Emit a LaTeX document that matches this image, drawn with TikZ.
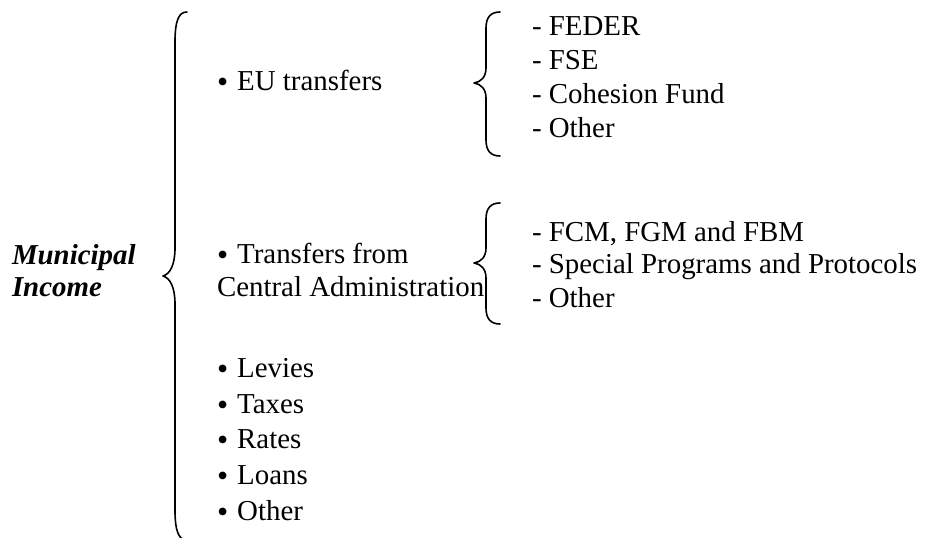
\documentclass[tikz,border=0pt]{standalone}
\usepackage{fontspec}
\setmainfont{Liberation Serif}
\newcommand{\bul}{\smash{\fontsize{32}{32}\selectfont\raisebox{-2bp}{•}}\hspace{9bp}}
\begin{document}
\begin{tikzpicture}[x=1bp,y=-1bp,
  txt/.style={anchor=base west,inner sep=0pt,outer sep=0pt,font=\fontsize{29}{32}\selectfont},
  head/.style={txt,font=\fontsize{29}{32}\selectfont\bfseries\itshape},
  bracestroke/.style={line width=1.6bp,line cap=round,line join=round}]
\useasboundingbox (0,0) rectangle (925,538);
\clip (0,0) rectangle (925,538);
% heading
\node[head] (mun) at (12,265) {Municipal};
\node[head] (inc) at (12,297) {Income};
% big brace
\draw[bracestroke] (187,12) .. controls (179,12) and (175,20) .. (175,42)
  -- (175,248) .. controls (175,265) and (170,274) .. (163,276)
  .. controls (170,278) and (175,287) .. (175,304)
  -- (175,510) .. controls (175,532) and (179,540) .. (187,540);
% first level
\node[txt] (eu) at (217,91) {\bul EU transfers};
\node[txt] (tr1) at (217,264) {\bul Transfers from};
\node[txt] (tr2) at (217,297) {Central Administration};
\node[txt] (lev) at (217,377) {\bul Levies};
\node[txt] (tax) at (217,413) {\bul Taxes};
\node[txt] (rat) at (217,448) {\bul Rates};
\node[txt] (loa) at (217,484) {\bul Loans};
\node[txt] (oth) at (217,520) {\bul Other};
% EU brace
\draw[bracestroke] (500,12) .. controls (491,12) and (486,17) .. (486,28)
  -- (486,68) .. controls (486,77) and (481,82) .. (474,83)
  .. controls (481,84) and (486,89) .. (486,98)
  -- (486,140) .. controls (486,151) and (491,156) .. (500,156);
\node[txt] (fed) at (532,36) {- FEDER};
\node[txt] (fse) at (532,70) {- FSE};
\node[txt] (coh) at (532,104) {- Cohesion Fund};
\node[txt] (eot) at (532,138) {- Other};
% Central brace
\draw[bracestroke] (500,203) .. controls (491,203) and (486,208) .. (486,219)
  -- (486,248) .. controls (486,257) and (481,262) .. (474,263)
  .. controls (481,264) and (486,269) .. (486,278)
  -- (486,308) .. controls (486,319) and (491,324) .. (500,324);
\node[txt] (fcm) at (532,242) {- FCM, FGM and FBM};
\node[txt] (spp) at (532,274) {- Special Programs and Protocols};
\node[txt] (cot) at (532,308) {- Other};
\end{tikzpicture}
\end{document}
